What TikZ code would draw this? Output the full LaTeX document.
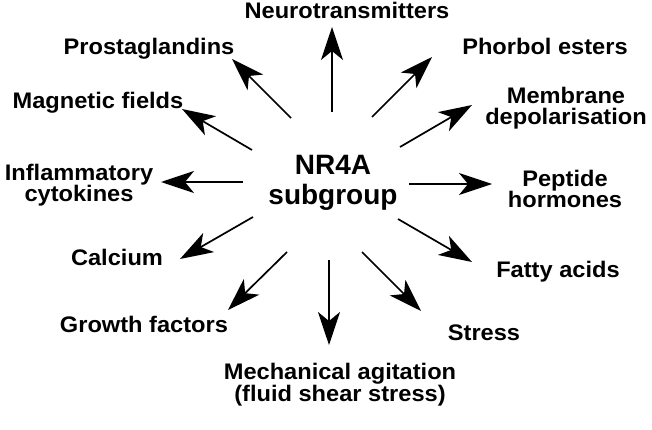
\documentclass[tikz,border=0pt]{standalone}
\usepackage{fontspec}
\setmainfont{Liberation Sans}[FakeStretch=1.05]
\newfontfamily\centerfont{Liberation Sans}
\usetikzlibrary{arrows.meta}
\begin{document}
\begin{tikzpicture}[x=1pt,y=-1pt,
  lab/.style={font=\fontsize{22.5}{21}\selectfont\bfseries, inner sep=0pt, align=center},
  ctr/.style={font=\centerfont\fontsize{28}{30}\selectfont\bfseries, inner sep=0pt, align=center},
  arr/.style={line width=1.7pt, -{Stealth[length=33pt,width=22pt,inset=9pt]}}]
\useasboundingbox (0,0) rectangle (652,430);
% centre
\node[ctr] (c) at (333,183) {NR4A\\subgroup};
% labels
\node[lab, anchor=base] (neu) at (347,19) {Neurotransmitters};
\node[lab, anchor=base] (pro) at (149,55) {Prostaglandins};
\node[lab, anchor=base] (pho) at (545,55) {Phorbol esters};
\node[lab, anchor=base] (mag) at (98,109) {Magnetic fields};
\node[lab, anchor=base] (cal) at (117,265) {Calcium};
\node[lab, anchor=base] (gro) at (144,332) {Growth factors};
\node[lab, anchor=base] (fat) at (558,277) {Fatty acids};
\node[lab, anchor=base] (str) at (484,340) {Stress};
\node[lab] (mem) at (566,108) {Membrane\\depolarisation};
\node[lab] (pep) at (565,189) {Peptide\\hormones};
\node[lab] (inf) at (79,185) {Inflammatory\\cytokines};
\node[lab] (mec) at (340,385) {Mechanical agitation\\(fluid shear stress)};
% arrow ends
\coordinate (sN) at (332,112);  \coordinate (tN) at (332,27);
\coordinate (sP) at (291,118);  \coordinate (tP) at (232,59);
\coordinate (sPh) at (372,117); \coordinate (tPh) at (432,57);
\coordinate (sM) at (400,147);  \coordinate (tM) at (472,105);
\coordinate (sMg) at (252,150); \coordinate (tMg) at (182,109);
\coordinate (sI) at (243,182);  \coordinate (tI) at (161,182);
\coordinate (sPe) at (409,184); \coordinate (tPe) at (492,184);
\coordinate (sC) at (253,217);  \coordinate (tC) at (180,259);
\coordinate (sF) at (398,219);  \coordinate (tF) at (472,262);
\coordinate (sG) at (287,252);  \coordinate (tG) at (228,310);
\coordinate (sMe) at (329,260); \coordinate (tMe) at (329,345);
\coordinate (sS) at (362,252);  \coordinate (tS) at (421,311);
% arrows
\draw[arr] (sN) -- (tN);
\draw[arr] (sP) -- (tP);
\draw[arr] (sPh) -- (tPh);
\draw[arr] (sM) -- (tM);
\draw[arr] (sMg) -- (tMg);
\draw[arr] (sI) -- (tI);
\draw[arr] (sPe) -- (tPe);
\draw[arr] (sC) -- (tC);
\draw[arr] (sF) -- (tF);
\draw[arr] (sG) -- (tG);
\draw[arr] (sMe) -- (tMe);
\draw[arr] (sS) -- (tS);
\end{tikzpicture}
\end{document}
